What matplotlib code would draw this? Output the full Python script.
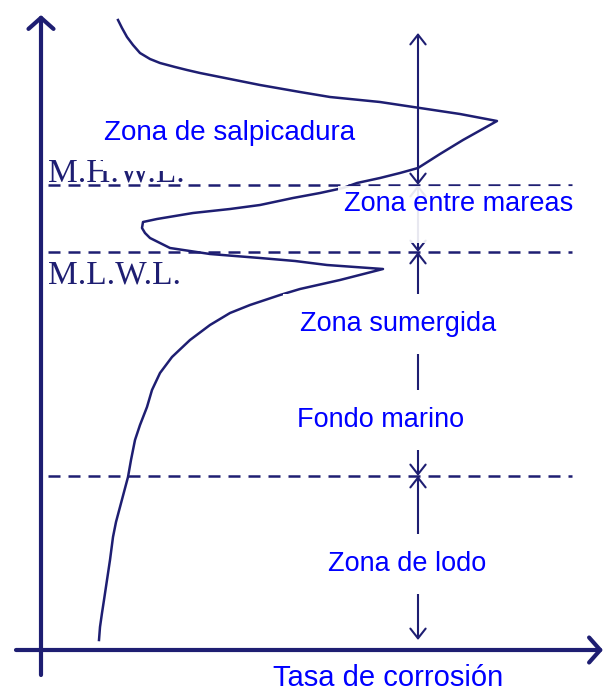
import matplotlib
matplotlib.use("Agg")
from matplotlib import pyplot as plt
from matplotlib.patches import Rectangle

# perfil de corrosion (x = tasa, y = profundidad, en pixeles del dibujo)
rate = [118, 122, 127, 133, 140, 150, 160, 175, 187, 200, 230, 260, 300, 330, 380, 420, 460, 497,
        463, 440, 418, 400, 380, 357, 343, 320, 293, 260, 230, 193, 175, 157, 143, 142, 145, 150,
        160, 170, 190, 210, 235, 260, 295, 327, 355, 383,
        340, 300, 280, 250, 230, 210, 190, 172, 160, 152, 147, 140, 135, 131, 128,
        124, 120, 116, 113, 110, 107, 104, 102, 100, 99]
depth = [20, 28, 37, 45, 53, 59, 63, 67, 70, 73, 79, 85, 92, 97, 102, 108, 114, 121,
         140, 154, 168, 173, 178, 183, 188, 193, 198, 205, 209, 213, 216, 219, 222, 228, 233, 238,
         243, 248, 251, 254, 256, 258, 261, 265, 267, 269,
         280, 289, 295, 305, 313, 325, 340, 357, 373, 390, 407, 425, 440, 460, 477,
         492, 507, 522, 537, 560, 580, 600, 613, 627, 640]

level_y = [185, 252, 476]
level_names = ["M.H.W.L.", "M.L.W.L."]
zone_limits = [33, 185, 252, 476, 640]
zone_names = ["Zona de salpicadura", "Zona entre mareas", "Zona sumergida", "Fondo marino", "Zona de lodo"]
xlabel = "Tasa de corrosión"

navy = "#1e1e72"
blue = "#0000ff"

fig = plt.figure(figsize=(6.06, 6.94), dpi=100)
ax = fig.add_axes([0, 0, 1, 1])
ax.set_xlim(0, 606)
ax.set_ylim(694, 0)
ax.axis("off")

# ejes con flechas
ax.annotate("", xy=(41, 15), xytext=(41, 675),
            arrowprops=dict(arrowstyle="->,head_length=0.4,head_width=0.45", lw=3, color=navy,
                            mutation_scale=20, shrinkA=0, shrinkB=0))
ax.annotate("", xy=(603, 650), xytext=(16, 650),
            arrowprops=dict(arrowstyle="->,head_length=0.4,head_width=0.45", lw=3, color=navy,
                            mutation_scale=20, shrinkA=0, shrinkB=0))

# niveles
ax.hlines(level_y, 48, 572, colors=navy, lw=1.8, linestyles=(0, (4.8, 3.2)), zorder=1)
ax.text(48, 181, level_names[0], family="Liberation Serif", fontsize=24, color=navy, zorder=1)
ax.text(48, 283, level_names[1], family="Liberation Serif", fontsize=24, color=navy, zorder=1)

# cajas blancas tras los textos
ax.add_patch(Rectangle((103, 113), 315, 58, facecolor="white", edgecolor="none", zorder=2))
ax.add_patch(Rectangle((338, 186), 237, 57, facecolor="white", edgecolor="none", alpha=0.9, zorder=4))

# curva
ax.plot(rate, depth, color=navy, lw=1.8, zorder=3)

# flechas de zonas
for top, bot in zip(zone_limits[:-1], zone_limits[1:]):
    ax.annotate("", xy=(418, top), xytext=(418, bot),
                arrowprops=dict(arrowstyle="<->,head_length=0.7,head_width=0.55", lw=1.5, color=navy,
                                mutation_scale=10, shrinkA=0, shrinkB=0), zorder=3)

box = dict(facecolor="white", edgecolor="none", pad=12)
ax.text(104, 140, zone_names[0], family="Liberation Sans", fontsize=20, color=blue, zorder=5)
ax.text(344, 211, zone_names[1], family="Liberation Sans", fontsize=19.5, color=blue, zorder=5)
ax.text(300, 331, zone_names[2], family="Liberation Sans", fontsize=19.5, color=blue, zorder=5, bbox=box)
ax.text(297, 427, zone_names[3], family="Liberation Sans", fontsize=19.5, color=blue, zorder=5, bbox=box)
ax.text(328, 571, zone_names[4], family="Liberation Sans", fontsize=19.5, color=blue, zorder=5, bbox=box)
ax.text(273, 686, xlabel, family="Liberation Sans", fontsize=21, color=blue, zorder=5)

plt.savefig("out.png", dpi=100)
plt.close()
